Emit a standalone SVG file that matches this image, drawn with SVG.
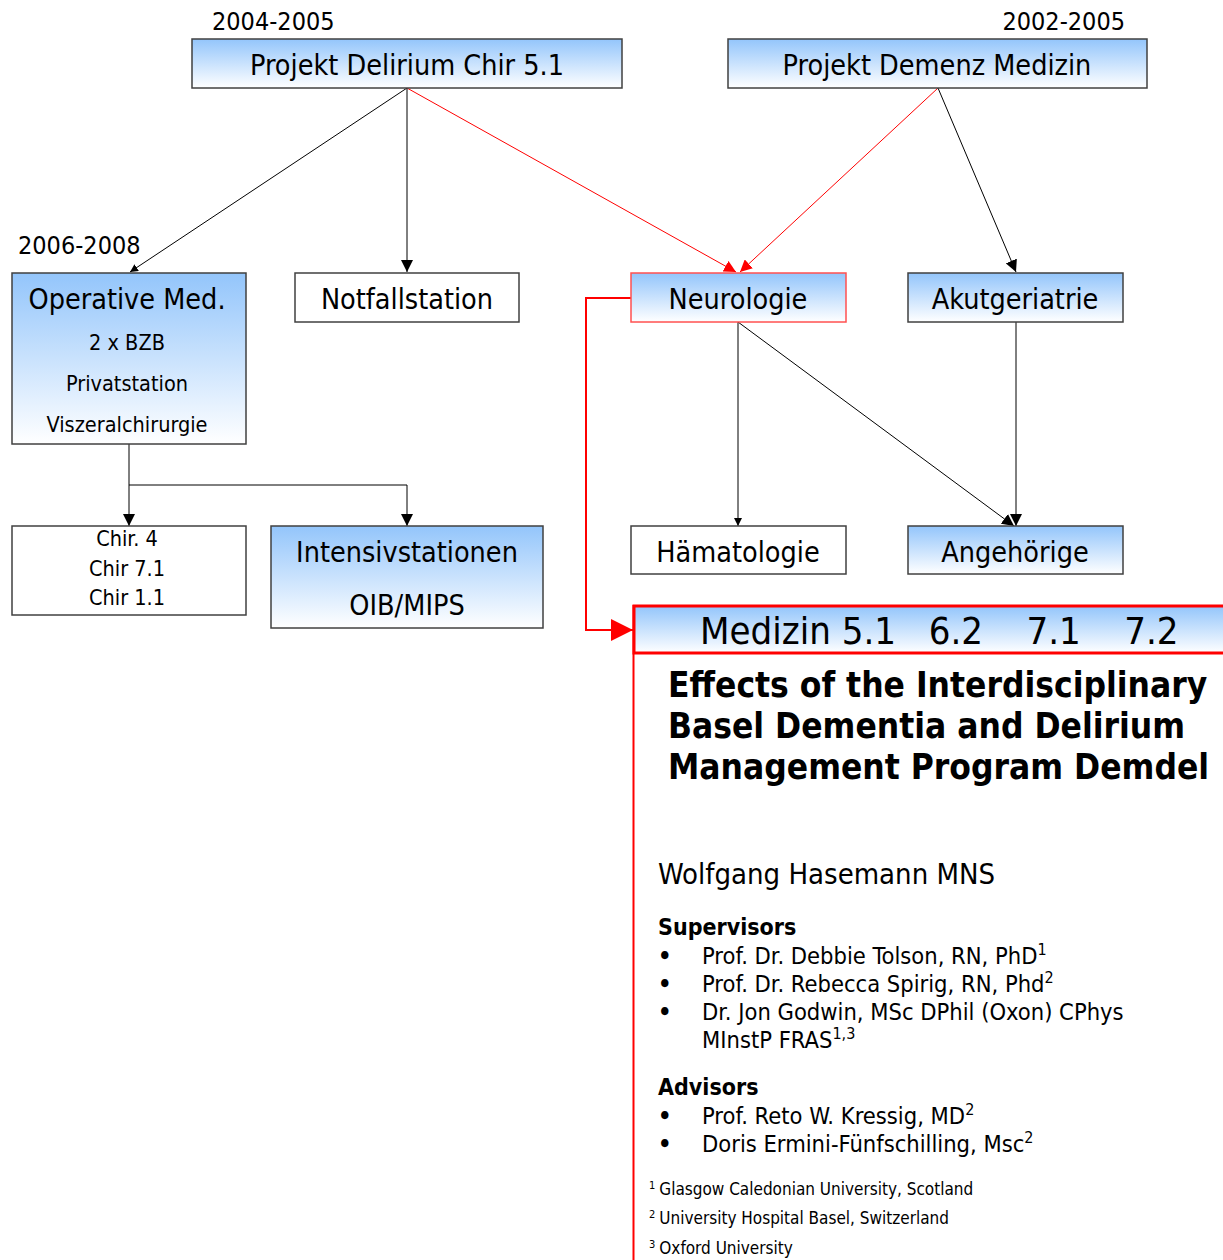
<svg xmlns="http://www.w3.org/2000/svg" width="1223" height="1260" viewBox="0 0 1223 1260">
<defs>
<linearGradient id="g" x1="0" y1="0" x2="0" y2="1">
<stop offset="0" stop-color="#93c5fb"/>
<stop offset="1" stop-color="#ffffff"/>
</linearGradient>
<marker id="ab" viewBox="0 0 10 10" refX="10" refY="5" markerWidth="12" markerHeight="12" markerUnits="userSpaceOnUse" orient="auto">
<path d="M0,0 L10,5 L0,10 z" fill="#000"/>
</marker>
<marker id="abs" viewBox="0 0 10 10" refX="10" refY="5" markerWidth="8" markerHeight="8" markerUnits="userSpaceOnUse" orient="auto">
<path d="M0,0 L10,5 L0,10 z" fill="#000"/>
</marker>
<marker id="ar" viewBox="0 0 10 10" refX="10" refY="5" markerWidth="12" markerHeight="12" markerUnits="userSpaceOnUse" orient="auto">
<path d="M0,0 L10,5 L0,10 z" fill="#ff0000"/>
</marker>
<marker id="arb" viewBox="0 0 10 10" refX="10" refY="5" markerWidth="22" markerHeight="22" markerUnits="userSpaceOnUse" orient="auto">
<path d="M0,0 L10,5 L0,10 z" fill="#ff0000"/>
</marker>
</defs>
<style>
text{font-family:"DejaVu Sans Condensed","DejaVu Sans",sans-serif;fill:#000}
.box{stroke:#404040;stroke-width:1.5}
.bl{fill:url(#g)}
.wh{fill:#fff}
.t28{font-size:28.5px;text-anchor:middle}
.t21{font-size:21.5px;text-anchor:middle}
.yr{font-size:25px}
.c{fill:none;stroke:#000;stroke-width:1}
.cr{fill:none;stroke:#ff0000;stroke-width:1}
.b{font-size:23.5px}
.bu{font-weight:bold}
.bb{font-size:23px;font-weight:bold}
.fn{font-size:17px}
.sup{font-size:16px}
</style>

<text class="yr" x="212" y="30">2004-2005</text>
<text class="yr" x="1125" y="30" text-anchor="end">2002-2005</text>
<text class="yr" x="18" y="254">2006-2008</text>

<g id="connectors">
<line class="c" x1="407" y1="88" x2="130" y2="272" marker-end="url(#abs)"/>
<line class="c" x1="407" y1="88" x2="407" y2="272" marker-end="url(#ab)"/>
<line class="cr" x1="407" y1="88" x2="736" y2="272" marker-end="url(#ar)"/>
<line class="cr" x1="938" y1="88" x2="740" y2="272" marker-end="url(#ar)"/>
<line class="c" x1="938" y1="88" x2="1016" y2="272" marker-end="url(#ab)"/>
<line class="c" x1="738" y1="322" x2="738" y2="526" marker-end="url(#abs)"/>
<line class="c" x1="738" y1="322" x2="1014" y2="526" marker-end="url(#ab)"/>
<line class="c" x1="1016" y1="322" x2="1016" y2="526" marker-end="url(#ab)"/>
<line class="c" x1="129" y1="444" x2="129" y2="526" marker-end="url(#ab)"/>
<polyline class="c" points="129,485 407,485 407,526" marker-end="url(#ab)"/>
<polyline points="631,298 586,298 586,630 633,630" fill="none" stroke="#ff0000" stroke-width="2" marker-end="url(#arb)"/>
</g>

<g id="n-delirium">
<rect class="box bl" x="192" y="39" width="430" height="49"/>
<text class="t28" x="407" y="75">Projekt Delirium Chir 5.1</text>
</g>
<g id="n-demenz">
<rect class="box bl" x="728" y="39" width="419" height="49"/>
<text class="t28" x="937" y="75">Projekt Demenz Medizin</text>
</g>
<g id="n-operative">
<rect class="box bl" x="12" y="273" width="234" height="171"/>
<text class="t28" x="127" y="309">Operative Med.</text>
<text class="t21" x="127" y="350">2 x BZB</text>
<text class="t21" x="127" y="391">Privatstation</text>
<text class="t21" x="127" y="432">Viszeralchirurgie</text>
</g>
<g id="n-notfall">
<rect class="box wh" x="295" y="273" width="224" height="49"/>
<text class="t28" x="407" y="309">Notfallstation</text>
</g>
<g id="n-neurologie">
<rect class="bl" x="631" y="273" width="215" height="49" stroke="#ff5050" stroke-width="1.5"/>
<text class="t28" x="738" y="309">Neurologie</text>
</g>
<g id="n-akut">
<rect class="box bl" x="908" y="273" width="215" height="49"/>
<text class="t28" x="1015" y="309">Akutgeriatrie</text>
</g>
<g id="n-chir">
<rect class="box wh" x="12" y="526" width="234" height="89"/>
<text class="t21" x="127" y="546">Chir. 4</text>
<text class="t21" x="127" y="576">Chir 7.1</text>
<text class="t21" x="127" y="605">Chir 1.1</text>
</g>
<g id="n-intensiv">
<rect class="box bl" x="271" y="526" width="272" height="102"/>
<text class="t28" x="407" y="562">Intensivstationen</text>
<text class="t28" x="407" y="615">OIB/MIPS</text>
</g>
<g id="n-haemato">
<rect class="box wh" x="631" y="526" width="215" height="48"/>
<text class="t28" x="738" y="562">Hämatologie</text>
</g>
<g id="n-angeh">
<rect class="box bl" x="908" y="526" width="215" height="48"/>
<text class="t28" x="1015" y="562">Angehörige</text>
</g>

<g id="n-medizin">
<line x1="633.5" y1="605" x2="633.5" y2="1260" stroke="#ff0000" stroke-width="2"/>
<rect class="bl" x="634" y="606" width="600" height="47" stroke="#ff0000" stroke-width="3"/>
<text x="700" y="644" font-size="38" xml:space="preserve">Medizin 5.1   6.2    7.1    7.2</text>

<text x="668" y="697" font-size="35" font-weight="bold">Effects of the Interdisciplinary</text>
<text x="668" y="738" font-size="35" font-weight="bold">Basel Dementia and Delirium</text>
<text x="668" y="779" font-size="35" font-weight="bold">Management Program Demdel</text>

<text x="658" y="884" font-size="29">Wolfgang Hasemann MNS</text>

<text class="bb" x="658" y="935">Supervisors</text>
<text class="b" x="658" y="964"><tspan class="bu">•</tspan><tspan x="702">Prof. Dr. Debbie Tolson, RN, PhD</tspan><tspan class="sup" dy="-9">1</tspan></text>
<text class="b" x="658" y="992"><tspan class="bu">•</tspan><tspan x="702">Prof. Dr. Rebecca Spirig, RN, Phd</tspan><tspan class="sup" dy="-9">2</tspan></text>
<text class="b" x="658" y="1020"><tspan class="bu">•</tspan><tspan x="702">Dr. Jon Godwin, MSc DPhil (Oxon) CPhys</tspan></text>
<text class="b" x="702" y="1048">MInstP FRAS<tspan class="sup" dy="-9">1,3</tspan></text>

<text class="bb" x="658" y="1095">Advisors</text>
<text class="b" x="658" y="1124"><tspan class="bu">•</tspan><tspan x="702">Prof. Reto W. Kressig, MD</tspan><tspan class="sup" dy="-9">2</tspan></text>
<text class="b" x="658" y="1152"><tspan class="bu">•</tspan><tspan x="702">Doris Ermini-Fünfschilling, Msc</tspan><tspan class="sup" dy="-9">2</tspan></text>

<text class="fn" x="649" y="1195"><tspan font-size="11" dy="-6">1</tspan><tspan dx="4" dy="6">Glasgow Caledonian University, Scotland</tspan></text>
<text class="fn" x="649" y="1224"><tspan font-size="11" dy="-6">2</tspan><tspan dx="4" dy="6">University Hospital Basel, Switzerland</tspan></text>
<text class="fn" x="649" y="1254"><tspan font-size="11" dy="-6">3</tspan><tspan dx="4" dy="6">Oxford University</tspan></text>
</g>
</svg>
